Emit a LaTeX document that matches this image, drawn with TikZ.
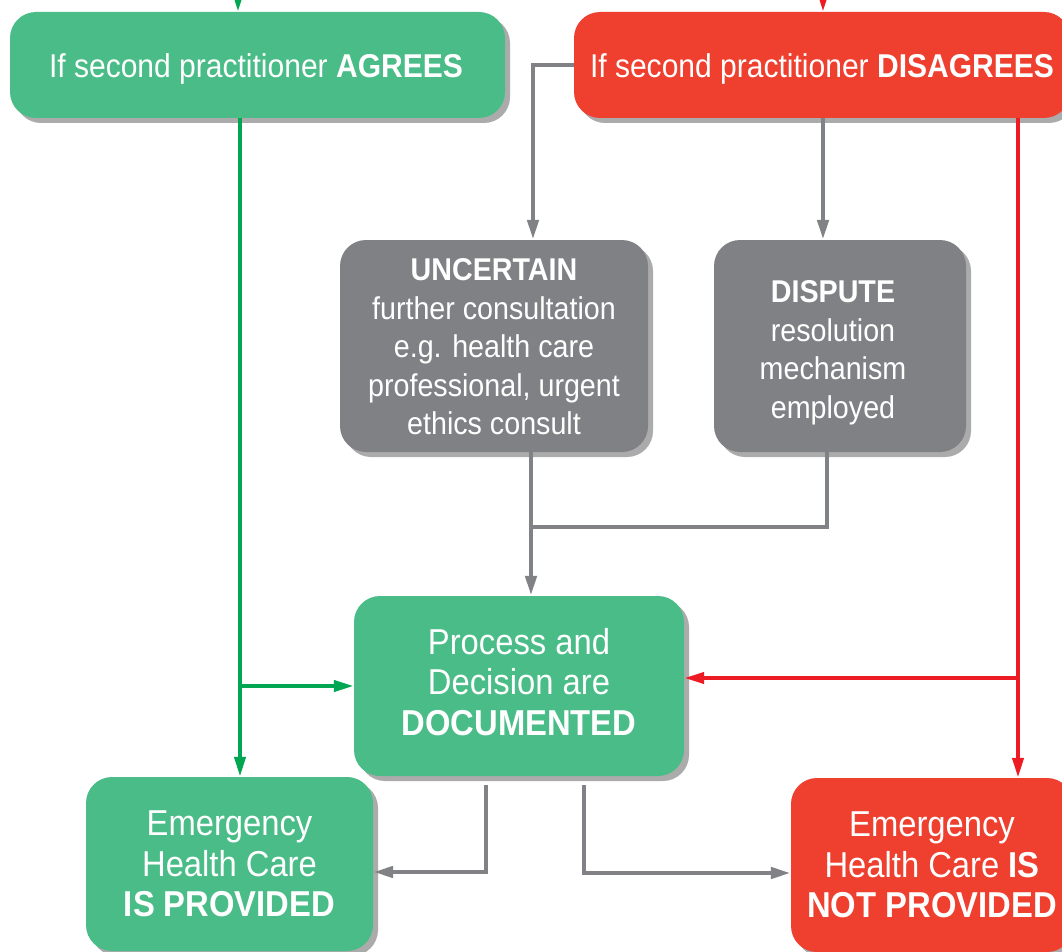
\documentclass[tikz,border=0pt]{standalone}
\usepackage{fontspec}
\setmainfont{Liberation Sans}[FakeStretch=0.91]
\usetikzlibrary{arrows.meta,shadows,calc}
\definecolor{boxgreen}{HTML}{49BC87}
\definecolor{boxred}{HTML}{EE3F2F}
\definecolor{boxgray}{HTML}{808184}
\definecolor{lgreen}{HTML}{00A651}
\definecolor{lred}{HTML}{ED1C24}
\definecolor{lgray}{HTML}{808285}
\tikzset{
  fbox/.style={rectangle, rounded corners=26pt, inner sep=0pt,
    drop shadow={shadow xshift=5pt, shadow yshift=-5pt, fill=black, opacity=0.33}},
  lbl/.style={text=white, align=center, inner sep=0pt},
  topfont/.style={font=\fontsize{33}{38}\selectfont},
  midfont/.style={font=\fontsize{31.5}{38.5}\selectfont},
  bigfont/.style={font=\fontsize{36}{40.5}\selectfont},
  garr/.style={draw=lgreen, line width=4pt, -{Triangle[width=11pt,length=20pt]}},
  rarr/.style={draw=lred, line width=4pt, -{Triangle[width=11pt,length=20pt]}},
  grarr/.style={draw=lgray, line width=4.5pt, -{Triangle[width=11pt,length=20pt]}},
  grline/.style={draw=lgray, line width=4.5pt},
}
\begin{document}
\begin{tikzpicture}[x=1pt,y=-1pt]
\useasboundingbox (0,0) rectangle (1062,952);
\clip (0,0) rectangle (1062,952);
% boxes
\node[fbox, fill=boxgreen, minimum width=495pt, minimum height=106pt] (agr) at (257.5,65) {};
\node[lbl, topfont] (agrt) at (256,69) {If second practitioner \textbf{AGREES}};
\node[fbox, fill=boxred, minimum width=496pt, minimum height=106pt] (dis) at (822,65) {};
\node[lbl, topfont] (dist) at (822,69) {If second practitioner \textbf{DISAGREES}};
\node[fbox, fill=boxgray, minimum width=308pt, minimum height=212pt] (unc) at (494,346) {};
\node[lbl, midfont] (unct) at (494,347)
  {\textbf{UNCERTAIN}\\further consultation\\e.g. health care\\professional, urgent\\ethics consult};
\node[fbox, fill=boxgray, minimum width=252pt, minimum height=212pt] (disp) at (840,346) {};
\node[lbl, midfont] (dispt) at (833,353)
  {\textbf{DISPUTE}\\resolution\\mechanism\\employed};
\node[fbox, fill=boxgreen, minimum width=330pt, minimum height=180pt] (doc) at (519,686) {};
\node[lbl, bigfont] (doct) at (519,682)
  {Process and\\Decision are\\\textbf{DOCUMENTED}};
\node[fbox, fill=boxgreen, minimum width=287pt, minimum height=174pt] (ip) at (229.5,864) {};
\node[lbl, bigfont] (ipt) at (229.5,864)
  {Emergency\\Health Care\\\textbf{IS PROVIDED}};
\node[fbox, fill=boxred, minimum width=282pt, minimum height=174pt] (np) at (932,865) {};
\node[lbl, bigfont] (npt) at (932,865)
  {Emergency\\Health Care \textbf{IS}\\\textbf{NOT PROVIDED}};
% helper coordinates
\coordinate (tg) at (238,-10);
\coordinate (tr) at (823,-10);
\coordinate (gx) at (240,0);
\coordinate (rx) at (1018,0);
\coordinate (ux) at (533,0);
\coordinate (dx) at (823,0);
\coordinate (jx) at (531,0);
\coordinate (px) at (827,0);
\coordinate (jn) at (531,527);
\coordinate (lx) at (486,0);
\coordinate (nx) at (584,0);
% top incoming arrows
\draw[garr] (tg) -- (tg |- agr.north);
\draw[rarr] (tr) -- (tr |- dis.north);
% green path
\draw[garr] (agr.south -| gx) -- (ip.north -| gx);
\draw[garr] (doc.west -| gx) -- (doc.west);
% red path
\draw[rarr] (dis.south -| rx) -- (np.north -| rx);
\draw[rarr] ([yshift=8pt]doc.east -| rx) -- ([yshift=8pt]doc.east);
% gray paths
\draw[grarr] (dis.west) -| (unc.north -| ux);
\draw[grarr] (dis.south -| dx) -- (disp.north -| dx);
\draw[grline] (disp.south -| px) |- (jn);
\draw[grarr] (unc.south -| jx) -- (doc.north -| jx);
\draw[grarr] ([yshift=-9pt]doc.south -| lx) |- ([yshift=-8pt]ip.east);
\draw[grarr] ([yshift=-9pt]doc.south -| nx) |- ([yshift=-8pt]np.west);
\end{tikzpicture}
\end{document}
